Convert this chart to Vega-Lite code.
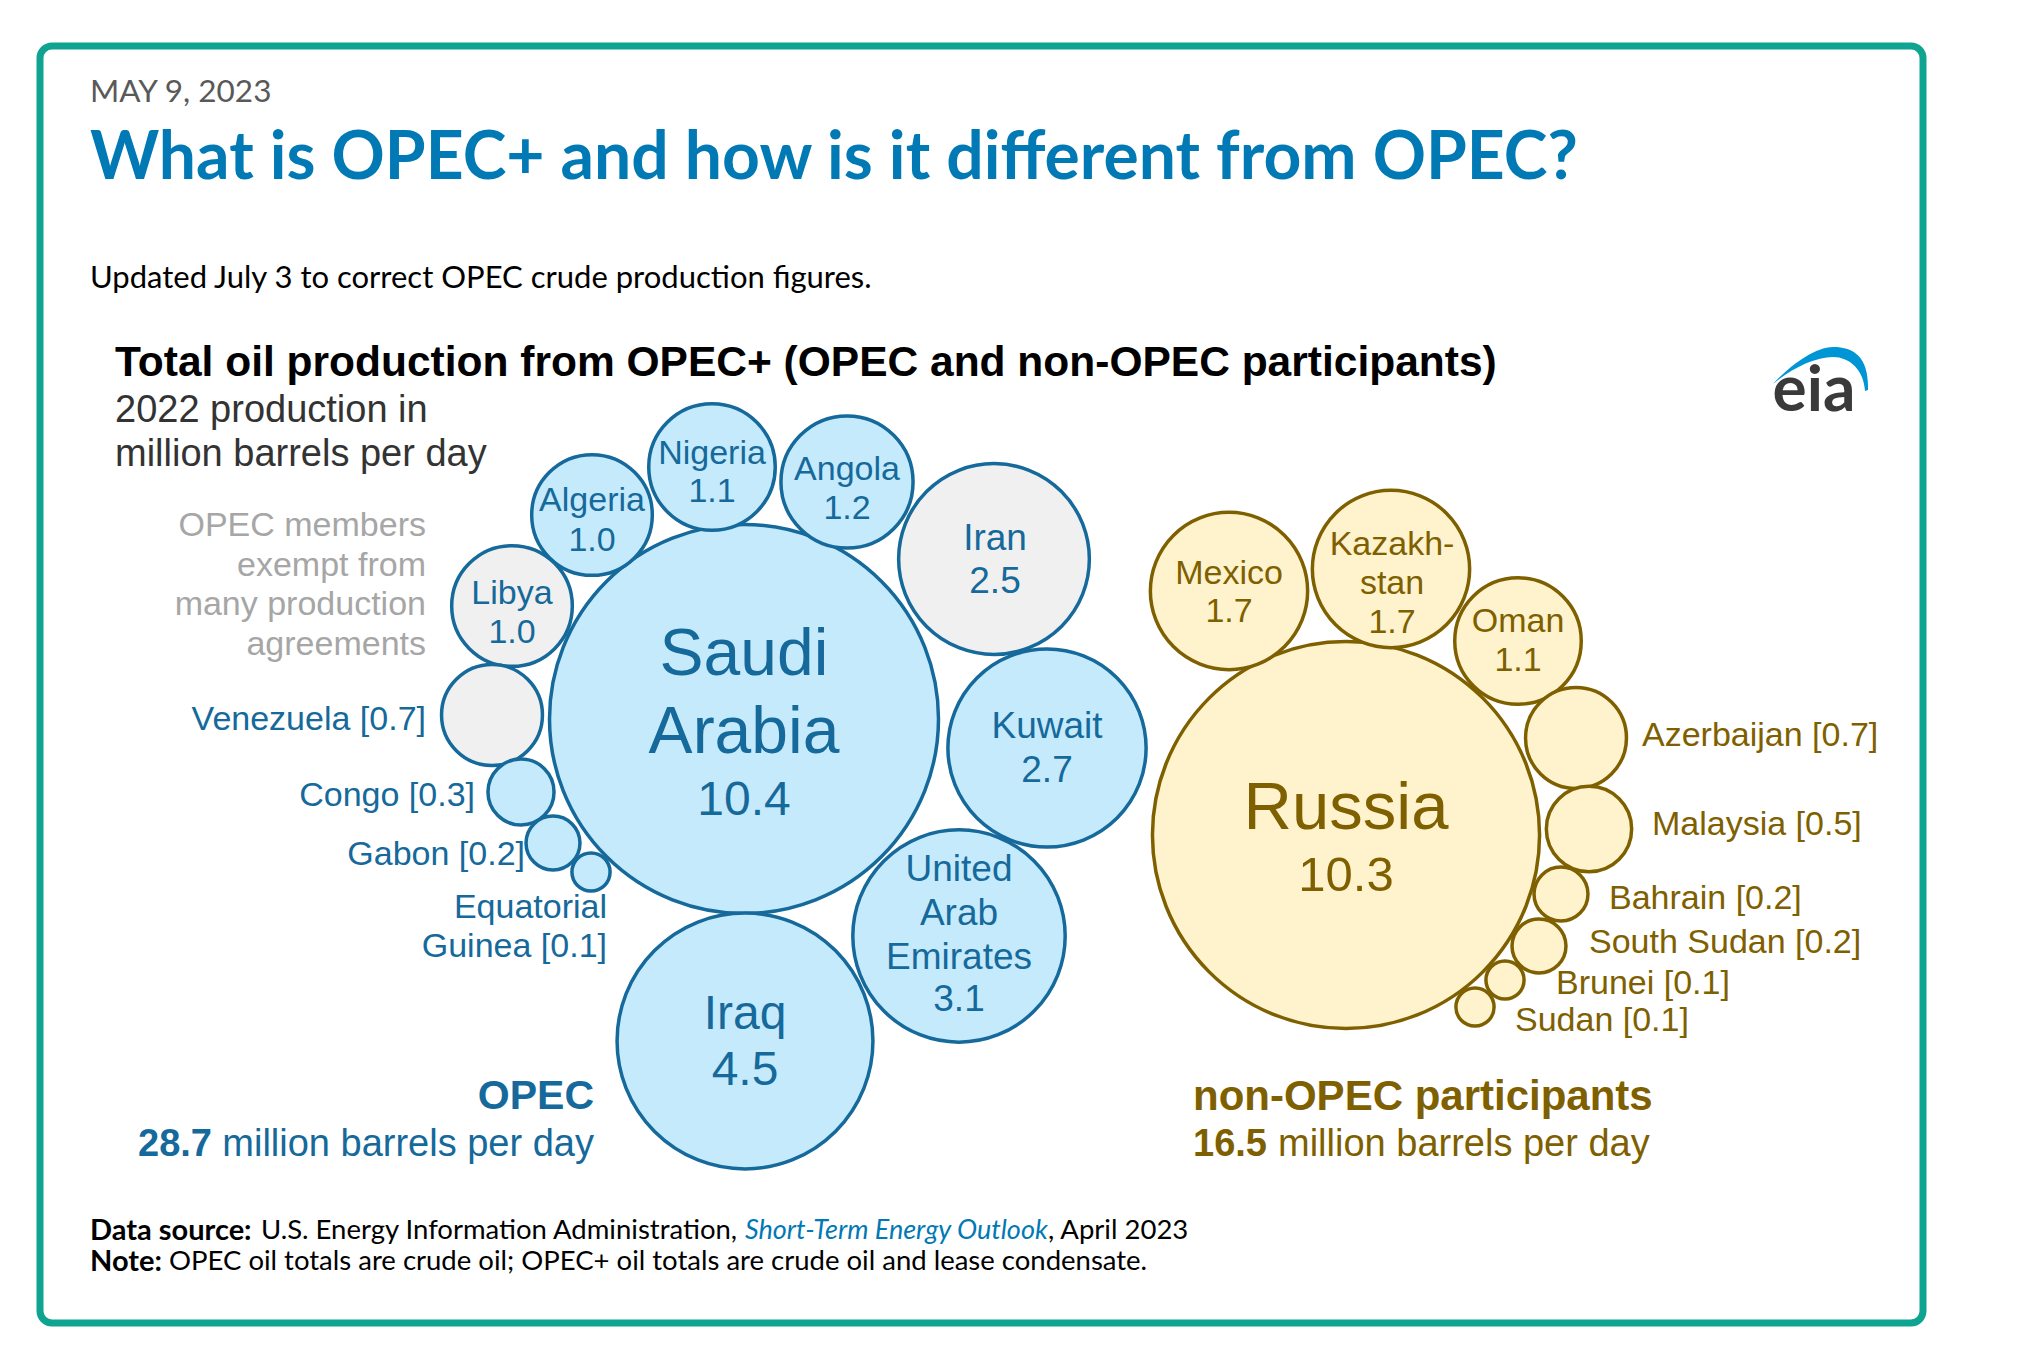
{
  "$schema": "https://vega.github.io/schema/vega-lite/v6.json",
  "width": 1883,
  "height": 1277,
  "autosize": {"type": "none"},
  "padding": {"left": 40, "top": 46, "right": 103, "bottom": 44},
  "background": "white",
  "config": {"view": {"stroke": "#0fa391", "strokeWidth": 7, "cornerRadius": 12}},
  "datasets": {
    "circles": [
      {"country": "Saudi Arabia", "value": 10.4, "bloc": "OPEC", "status": "OPEC", "x": 744, "y": 719},
      {"country": "Iraq", "value": 4.5, "bloc": "OPEC", "status": "OPEC", "x": 745, "y": 1041},
      {"country": "United Arab Emirates", "value": 3.1, "bloc": "OPEC", "status": "OPEC", "x": 959, "y": 936},
      {"country": "Kuwait", "value": 2.7, "bloc": "OPEC", "status": "OPEC", "x": 1047, "y": 748},
      {"country": "Iran", "value": 2.5, "bloc": "OPEC", "status": "OPEC exempt", "x": 994, "y": 559},
      {"country": "Angola", "value": 1.2, "bloc": "OPEC", "status": "OPEC", "x": 847, "y": 482},
      {"country": "Nigeria", "value": 1.1, "bloc": "OPEC", "status": "OPEC", "x": 712, "y": 467},
      {"country": "Algeria", "value": 1.0, "bloc": "OPEC", "status": "OPEC", "x": 592, "y": 515},
      {"country": "Libya", "value": 1.0, "bloc": "OPEC", "status": "OPEC exempt", "x": 512, "y": 606},
      {"country": "Venezuela", "value": 0.7, "bloc": "OPEC", "status": "OPEC exempt", "x": 492, "y": 715},
      {"country": "Congo", "value": 0.3, "bloc": "OPEC", "status": "OPEC", "x": 521, "y": 792},
      {"country": "Gabon", "value": 0.2, "bloc": "OPEC", "status": "OPEC", "x": 553, "y": 843},
      {"country": "Equatorial Guinea", "value": 0.1, "bloc": "OPEC", "status": "OPEC", "x": 591, "y": 872},
      {"country": "Russia", "value": 10.3, "bloc": "non-OPEC", "status": "non-OPEC", "x": 1346, "y": 835},
      {"country": "Mexico", "value": 1.7, "bloc": "non-OPEC", "status": "non-OPEC", "x": 1229, "y": 591},
      {"country": "Kazakhstan", "value": 1.7, "bloc": "non-OPEC", "status": "non-OPEC", "x": 1391, "y": 569},
      {"country": "Oman", "value": 1.1, "bloc": "non-OPEC", "status": "non-OPEC", "x": 1518, "y": 641},
      {"country": "Azerbaijan", "value": 0.7, "bloc": "non-OPEC", "status": "non-OPEC", "x": 1576, "y": 738},
      {"country": "Malaysia", "value": 0.5, "bloc": "non-OPEC", "status": "non-OPEC", "x": 1589, "y": 829},
      {"country": "Bahrain", "value": 0.2, "bloc": "non-OPEC", "status": "non-OPEC", "x": 1561, "y": 894},
      {"country": "South Sudan", "value": 0.2, "bloc": "non-OPEC", "status": "non-OPEC", "x": 1539, "y": 946},
      {"country": "Brunei", "value": 0.1, "bloc": "non-OPEC", "status": "non-OPEC", "x": 1505, "y": 980},
      {"country": "Sudan", "value": 0.1, "bloc": "non-OPEC", "status": "non-OPEC", "x": 1475, "y": 1007}
    ],
    "labels": [
      {"role": "opec_in", "text": "Nigeria", "x": 712, "y": 454},
      {"role": "opec_in", "text": "1.1", "x": 712, "y": 492},
      {"role": "opec_in", "text": "Angola", "x": 847, "y": 470},
      {"role": "opec_in", "text": "1.2", "x": 847, "y": 509},
      {"role": "opec_in", "text": "Algeria", "x": 592, "y": 501},
      {"role": "opec_in", "text": "1.0", "x": 592, "y": 541},
      {"role": "opec_in", "text": "Libya", "x": 512, "y": 594},
      {"role": "opec_in", "text": "1.0", "x": 512, "y": 633},
      {"role": "opec_in_m", "text": "Iran", "x": 995, "y": 539},
      {"role": "opec_in_m", "text": "2.5", "x": 995, "y": 582},
      {"role": "opec_in_m", "text": "Kuwait", "x": 1047, "y": 727},
      {"role": "opec_in_m", "text": "2.7", "x": 1047, "y": 771},
      {"role": "opec_in_m", "text": "United", "x": 959, "y": 870},
      {"role": "opec_in_m", "text": "Arab", "x": 959, "y": 914},
      {"role": "opec_in_m", "text": "Emirates", "x": 959, "y": 958},
      {"role": "opec_in_m", "text": "3.1", "x": 959, "y": 1000},
      {"role": "opec_in_xl", "text": "Iraq", "x": 745, "y": 1015},
      {"role": "opec_in_xl", "text": "4.5", "x": 745, "y": 1071},
      {"role": "opec_in_xl", "text": "10.4", "x": 744, "y": 801},
      {"role": "opec_big", "text": "Saudi", "x": 744, "y": 655},
      {"role": "opec_big", "text": "Arabia", "x": 744, "y": 733},
      {"role": "non_in", "text": "Mexico", "x": 1229, "y": 574},
      {"role": "non_in", "text": "1.7", "x": 1229, "y": 612},
      {"role": "non_in", "text": "Kazakh-", "x": 1392, "y": 545},
      {"role": "non_in", "text": "stan", "x": 1392, "y": 584},
      {"role": "non_in", "text": "1.7", "x": 1392, "y": 623},
      {"role": "non_in", "text": "Oman", "x": 1518, "y": 622},
      {"role": "non_in", "text": "1.1", "x": 1518, "y": 661},
      {"role": "non_big", "text": "Russia", "x": 1346, "y": 809},
      {"role": "non_in_xl", "text": "10.3", "x": 1346, "y": 876},
      {"role": "opec_side", "text": "Venezuela [0.7]", "x": 426, "y": 720},
      {"role": "opec_side", "text": "Congo [0.3]", "x": 475, "y": 796},
      {"role": "opec_side", "text": "Gabon [0.2]", "x": 525, "y": 855},
      {"role": "opec_side", "text": "Equatorial", "x": 607, "y": 908},
      {"role": "opec_side", "text": "Guinea [0.1]", "x": 607, "y": 947},
      {"role": "exempt_note", "text": "OPEC members", "x": 426, "y": 526},
      {"role": "exempt_note", "text": "exempt from", "x": 426, "y": 566},
      {"role": "exempt_note", "text": "many production", "x": 426, "y": 605},
      {"role": "exempt_note", "text": "agreements", "x": 426, "y": 645},
      {"role": "unit_note", "text": "2022 production in", "x": 115, "y": 411},
      {"role": "unit_note", "text": "million barrels per day", "x": 115, "y": 455},
      {"role": "chart_title", "text": "Total oil production from OPEC+ (OPEC and non-OPEC participants)", "x": 115, "y": 363},
      {"role": "non_side", "text": "Azerbaijan [0.7]", "x": 1642, "y": 736},
      {"role": "non_side", "text": "Malaysia [0.5]", "x": 1652, "y": 825},
      {"role": "non_side", "text": "Bahrain [0.2]", "x": 1609, "y": 899},
      {"role": "non_side", "text": "South Sudan [0.2]", "x": 1589, "y": 943},
      {"role": "non_side", "text": "Brunei [0.1]", "x": 1556, "y": 984},
      {"role": "non_side", "text": "Sudan [0.1]", "x": 1515, "y": 1021},
      {"role": "opec_head", "text": "OPEC", "x": 594, "y": 1097},
      {"role": "opec_total", "text": "28.7", "x": 212, "y": 1145},
      {"role": "opec_unit", "text": "million barrels per day", "x": 594, "y": 1145},
      {"role": "non_head", "text": "non-OPEC participants", "x": 1193, "y": 1097},
      {"role": "non_total", "text": "16.5", "x": 1193, "y": 1145},
      {"role": "non_unit", "text": "million barrels per day", "x": 1278, "y": 1145},
      {"role": "date", "text": "MAY 9, 2023", "x": 90, "y": 93},
      {"role": "headline", "text": "What is OPEC+ and how is it different from OPEC?", "x": 90, "y": 159},
      {"role": "update", "text": "Updated July 3 to correct OPEC crude production figures.", "x": 90, "y": 279},
      {"role": "src_bold", "text": "Data source:", "x": 90, "y": 1231},
      {"role": "src_bold", "text": "Note:", "x": 90, "y": 1262},
      {"role": "src", "text": "U.S. Energy Information Administration,", "x": 261, "y": 1231},
      {"role": "src", "text": ", April 2023", "x": 1048, "y": 1231},
      {"role": "src", "text": "OPEC oil totals are crude oil; OPEC+ oil totals are crude oil and lease condensate.", "x": 169, "y": 1262},
      {"role": "src_link", "text": "Short-Term Energy Outlook", "x": 745, "y": 1231},
      {"role": "eia", "text": "eia", "x": 1814, "y": 411}
    ],
    "decor": [{"item": "eia swoosh", "x": 1820, "y": 368}]
  },
  "encoding": {
    "x": {"field": "x", "type": "quantitative", "scale": {"domain": [40, 1923], "nice": false, "zero": false}, "axis": null},
    "y": {"field": "y", "type": "quantitative", "scale": {"domain": [46, 1323], "nice": false, "zero": false, "reverse": true}, "axis": null}
  },
  "layer": [
    {
      "data": {"name": "circles"},
      "mark": {"type": "point", "shape": "circle", "filled": true, "opacity": 1, "strokeWidth": 3.5, "strokeOpacity": 1, "fillOpacity": 1},
      "encoding": {
        "size": {"field": "value", "type": "quantitative", "scale": {"type": "linear", "domain": [0, 10], "range": [0, 145500], "zero": true}, "legend": null},
        "fill": {"field": "status", "type": "nominal", "scale": {"domain": ["OPEC", "OPEC exempt", "non-OPEC"], "range": ["#c5eafb", "#f0f0f0", "#fef3cd"]}, "legend": null},
        "stroke": {"field": "bloc", "type": "nominal", "scale": {"domain": ["OPEC", "non-OPEC"], "range": ["#15699b", "#7f6000"]}, "legend": null},
        "tooltip": [{"field": "country"}, {"field": "value"}]
      }
    },
    {
      "data": {"name": "decor"},
      "mark": {"type": "point", "shape": "M-0.94,0.32 C-0.6,-0.05 -0.1,-0.42 0.26,-0.42 C0.7,-0.42 0.98,-0.2 0.96,0.44 L0.9,0.46 C0.88,0.05 0.6,-0.22 0.26,-0.22 C-0.1,-0.22 -0.55,0.0 -0.94,0.32 Z", "filled": true, "fill": "#0096d6", "opacity": 1, "strokeWidth": 0, "size": 10000}
    },
    {"data": {"name": "labels"}, "transform": [{"filter": "datum.role === 'opec_in'"}],
     "mark": {"type": "text", "font": "Liberation Sans", "fontSize": 34, "color": "#15699b", "align": "center", "baseline": "middle"},
     "encoding": {"text": {"field": "text"}}},
    {"data": {"name": "labels"}, "transform": [{"filter": "datum.role === 'opec_in_m'"}],
     "mark": {"type": "text", "font": "Liberation Sans", "fontSize": 37, "color": "#15699b", "align": "center", "baseline": "middle"},
     "encoding": {"text": {"field": "text"}}},
    {"data": {"name": "labels"}, "transform": [{"filter": "datum.role === 'opec_in_xl'"}],
     "mark": {"type": "text", "font": "Liberation Sans", "fontSize": 48, "color": "#15699b", "align": "center", "baseline": "middle"},
     "encoding": {"text": {"field": "text"}}},
    {"data": {"name": "labels"}, "transform": [{"filter": "datum.role === 'opec_big'"}],
     "mark": {"type": "text", "font": "Liberation Sans", "fontSize": 66, "color": "#15699b", "align": "center", "baseline": "middle"},
     "encoding": {"text": {"field": "text"}}},
    {"data": {"name": "labels"}, "transform": [{"filter": "datum.role === 'non_in'"}],
     "mark": {"type": "text", "font": "Liberation Sans", "fontSize": 34, "color": "#7f6000", "align": "center", "baseline": "middle"},
     "encoding": {"text": {"field": "text"}}},
    {"data": {"name": "labels"}, "transform": [{"filter": "datum.role === 'non_big'"}],
     "mark": {"type": "text", "font": "Liberation Sans", "fontSize": 67, "color": "#7f6000", "align": "center", "baseline": "middle"},
     "encoding": {"text": {"field": "text"}}},
    {"data": {"name": "labels"}, "transform": [{"filter": "datum.role === 'non_in_xl'"}],
     "mark": {"type": "text", "font": "Liberation Sans", "fontSize": 49, "color": "#7f6000", "align": "center", "baseline": "middle"},
     "encoding": {"text": {"field": "text"}}},
    {"data": {"name": "labels"}, "transform": [{"filter": "datum.role === 'opec_side'"}],
     "mark": {"type": "text", "font": "Liberation Sans", "fontSize": 34, "color": "#15699b", "align": "right", "baseline": "middle"},
     "encoding": {"text": {"field": "text"}}},
    {"data": {"name": "labels"}, "transform": [{"filter": "datum.role === 'non_side'"}],
     "mark": {"type": "text", "font": "Liberation Sans", "fontSize": 34, "color": "#7f6000", "align": "left", "baseline": "middle"},
     "encoding": {"text": {"field": "text"}}},
    {"data": {"name": "labels"}, "transform": [{"filter": "datum.role === 'exempt_note'"}],
     "mark": {"type": "text", "font": "Liberation Sans", "fontSize": 34, "color": "#a6a6a6", "align": "right", "baseline": "middle"},
     "encoding": {"text": {"field": "text"}}},
    {"data": {"name": "labels"}, "transform": [{"filter": "datum.role === 'unit_note'"}],
     "mark": {"type": "text", "font": "Liberation Sans", "fontSize": 38, "color": "#333333", "align": "left", "baseline": "middle"},
     "encoding": {"text": {"field": "text"}}},
    {"data": {"name": "labels"}, "transform": [{"filter": "datum.role === 'chart_title'"}],
     "mark": {"type": "text", "font": "Liberation Sans", "fontSize": 42.5, "fontWeight": "bold", "color": "#000000", "align": "left", "baseline": "middle"},
     "encoding": {"text": {"field": "text"}}},
    {"data": {"name": "labels"}, "transform": [{"filter": "datum.role === 'opec_head'"}],
     "mark": {"type": "text", "font": "Liberation Sans", "fontSize": 41, "fontWeight": "bold", "color": "#15699b", "align": "right", "baseline": "middle"},
     "encoding": {"text": {"field": "text"}}},
    {"data": {"name": "labels"}, "transform": [{"filter": "datum.role === 'opec_total'"}],
     "mark": {"type": "text", "font": "Liberation Sans", "fontSize": 38, "fontWeight": "bold", "color": "#15699b", "align": "right", "baseline": "middle"},
     "encoding": {"text": {"field": "text"}}},
    {"data": {"name": "labels"}, "transform": [{"filter": "datum.role === 'opec_unit'"}],
     "mark": {"type": "text", "font": "Liberation Sans", "fontSize": 38, "color": "#15699b", "align": "right", "baseline": "middle"},
     "encoding": {"text": {"field": "text"}}},
    {"data": {"name": "labels"}, "transform": [{"filter": "datum.role === 'non_head'"}],
     "mark": {"type": "text", "font": "Liberation Sans", "fontSize": 42, "fontWeight": "bold", "color": "#7f6000", "align": "left", "baseline": "middle"},
     "encoding": {"text": {"field": "text"}}},
    {"data": {"name": "labels"}, "transform": [{"filter": "datum.role === 'non_total'"}],
     "mark": {"type": "text", "font": "Liberation Sans", "fontSize": 38, "fontWeight": "bold", "color": "#7f6000", "align": "left", "baseline": "middle"},
     "encoding": {"text": {"field": "text"}}},
    {"data": {"name": "labels"}, "transform": [{"filter": "datum.role === 'non_unit'"}],
     "mark": {"type": "text", "font": "Liberation Sans", "fontSize": 38, "color": "#7f6000", "align": "left", "baseline": "middle"},
     "encoding": {"text": {"field": "text"}}},
    {"data": {"name": "labels"}, "transform": [{"filter": "datum.role === 'date'"}],
     "mark": {"type": "text", "font": "Lato", "fontSize": 31.5, "color": "#595959", "align": "left", "baseline": "middle"},
     "encoding": {"text": {"field": "text"}}},
    {"data": {"name": "labels"}, "transform": [{"filter": "datum.role === 'headline'"}],
     "mark": {"type": "text", "font": "Lato", "fontSize": 66, "fontWeight": "bold", "color": "#0079b4", "align": "left", "baseline": "middle"},
     "encoding": {"text": {"field": "text"}}},
    {"data": {"name": "labels"}, "transform": [{"filter": "datum.role === 'update'"}],
     "mark": {"type": "text", "font": "Lato", "fontSize": 31, "color": "#000000", "align": "left", "baseline": "middle"},
     "encoding": {"text": {"field": "text"}}},
    {"data": {"name": "labels"}, "transform": [{"filter": "datum.role === 'src_bold'"}],
     "mark": {"type": "text", "font": "Lato", "fontSize": 29, "fontWeight": "bold", "color": "#000000", "align": "left", "baseline": "middle"},
     "encoding": {"text": {"field": "text"}}},
    {"data": {"name": "labels"}, "transform": [{"filter": "datum.role === 'src'"}],
     "mark": {"type": "text", "font": "Lato", "fontSize": 27.5, "color": "#000000", "align": "left", "baseline": "middle"},
     "encoding": {"text": {"field": "text"}}},
    {"data": {"name": "labels"}, "transform": [{"filter": "datum.role === 'src_link'"}],
     "mark": {"type": "text", "font": "Lato", "fontSize": 27, "fontStyle": "italic", "color": "#0079b4", "align": "left", "baseline": "middle"},
     "encoding": {"text": {"field": "text"}}},
    {"data": {"name": "labels"}, "transform": [{"filter": "datum.role === 'eia'"}],
     "mark": {"type": "text", "font": "Lato", "fontSize": 64, "fontWeight": "bold", "color": "#3a3a3a", "align": "center", "baseline": "alphabetic"},
     "encoding": {"text": {"field": "text"}}}
  ]
}
